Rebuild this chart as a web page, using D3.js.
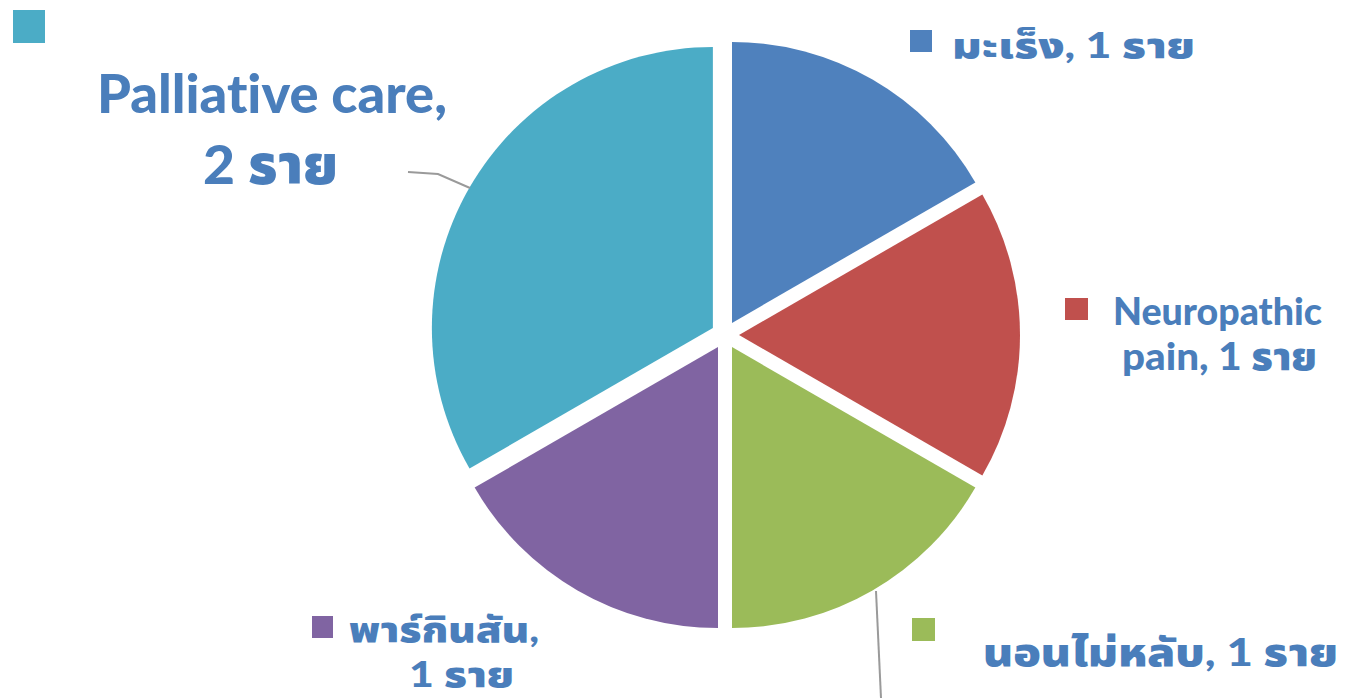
<!DOCTYPE html>
<html><head><meta charset="utf-8">
<script src="https://cdn.jsdelivr.net/npm/d3@7"></script>
<style>
html,body{margin:0;padding:0;background:#fff;overflow:hidden;}
text{font-family:"Lato","Noto Sans","Noto Sans Thai","Loma","Garuda",sans-serif;font-weight:900;fill:#4A7EBB;font-variant-ligatures:none;font-feature-settings:"liga" 0;}
</style></head>
<body>
<svg id="c" width="1363" height="698"></svg>
<script>
const categories = ["มะเร็ง", "Neuropathic pain", "นอนไม่หลับ", "พาร์กินสัน", "Palliative care"];
const values = [1, 1, 1, 1, 2];
const unit = "ราย";
const colors = ["#4F81BD", "#C0504D", "#9BBB59", "#8064A2", "#4BACC6"];
// label text lines per category
const labelLines = [
  ["มะเร็ง, 1 ราย"],
  ["Neuropathic", "pain, 1 ราย"],
  ["นอนไม่หลับ, 1 ราย"],
  ["พาร์กินสัน,", "1 ราย"],
  ["Palliative care,", "2 ราย"]
];

const svg = d3.select("#c");
const cx = 725, cy = 335, R = 281, explode = 14;

const pie = d3.pie().sort(null).value(d => d)(values);
const arc = d3.arc().innerRadius(0).outerRadius(R);

const g = svg.append("g").attr("transform", `translate(${cx},${cy})`);
g.selectAll("path").data(pie).enter().append("path")
  .attr("d", arc)
  .attr("fill", (d, i) => colors[i])
  .attr("transform", d => {
    const a = (d.startAngle + d.endAngle) / 2;
    return `translate(${explode * Math.sin(a)},${-explode * Math.cos(a)})`;
  });

// leader lines
const leaders = [
  [[408,172],[438,174],[470,188]],
  [[876,591],[881,698]]
];
svg.selectAll("path.leader").data(leaders).enter().append("path")
  .attr("class","leader")
  .attr("d", d => d3.line()(d))
  .attr("fill","none").attr("stroke","#9a9a9a").attr("stroke-width",2);

// per-line placement: left x, baseline y, width; plus font size and key box
const layout = [
  {fs: 36, lines: [{x: 952, y: 58, w: 243}], key: [910, 30, 22, 22]},
  {fs: 38, lines: [{x: 1113, y: 325, w: 209}, {x: 1122, y: 370, w: 195}], key: [1065, 298, 23, 22]},
  {fs: 38, lines: [{x: 983, y: 666, w: 355}], key: [912, 618, 23, 23]},
  {fs: 36, lines: [{x: 349, y: 642, w: 190}, {x: 409, y: 687, w: 105}], key: [312, 616, 21, 22]},
  {fs: 54, lines: [{x: 97, y: 113, w: 350}, {x: 203, y: 184, w: 135}], key: [13, 10, 32, 33]}
];

layout.forEach((L, i) => {
  const k = L.key;
  svg.append("rect").attr("x", k[0]).attr("y", k[1]).attr("width", k[2]).attr("height", k[3])
    .attr("fill", colors[i]);
  const t = svg.append("text").attr("font-size", L.fs);
  labelLines[i].forEach((ln, j) => {
    const p = L.lines[j];
    t.append("tspan")
      .attr("x", p.x).attr("y", p.y)
      .attr("textLength", p.w).attr("lengthAdjust", "spacingAndGlyphs")
      .text(ln);
  });
});
</script>
</body></html>
